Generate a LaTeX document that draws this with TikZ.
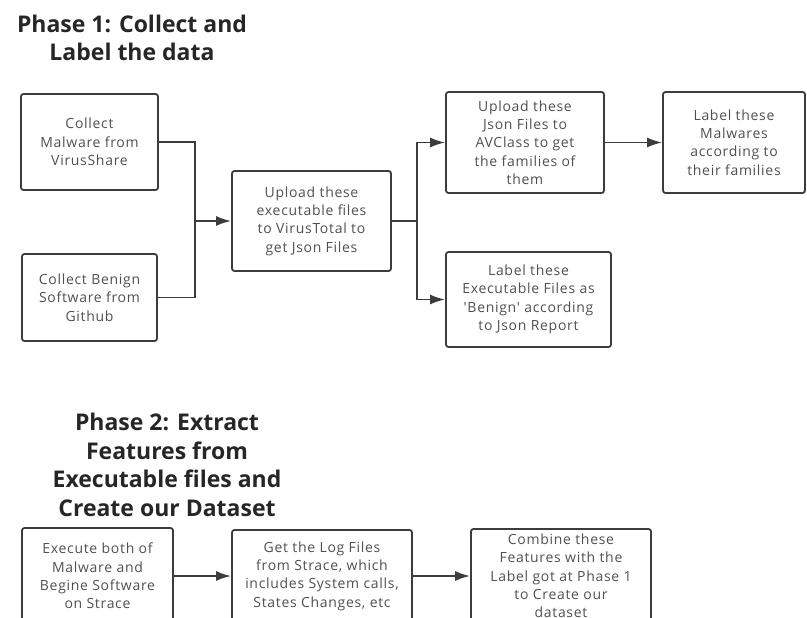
\documentclass[tikz,border=0pt]{standalone}
\usepackage{fontspec}
\setmainfont{Open Sans}
\newfontfamily\boxFont[LetterSpace=5]{Open Sans}
\usepackage{tikz}
\usetikzlibrary{arrows.meta, calc}

\definecolor{boxLine}{HTML}{3C3C3C}
\definecolor{boxText}{HTML}{505050}
\definecolor{titleText}{HTML}{262626}

\tikzset{
    stepBox/.style={draw=boxLine, line width=1.8pt, rounded corners=2.5pt, align=center,
        text=boxText, font=\boxFont\fontsize{14}{18.3}\selectfont, inner sep=0pt},
    phaseTitle/.style={align=center, text=titleText, font=\fontsize{23}{28.7}\selectfont\bfseries},
    wire/.style={draw=boxLine, line width=1.8pt},
    arrowWire/.style={wire, -{Latex[length=15pt, width=10pt]}}
}

\begin{document}
\begin{tikzpicture}[x=1pt, y=-1pt]

%%Paramaters
%% frame of the picture, in pixels
\useasboundingbox (0,0) rectangle (807,618);
\clip (0,0) rectangle (807,618);

%% y position of the second phase row
\def\rowPos{576}


    %% ***Phase 1 : Collect and Label the data***

    \node[phaseTitle] (titleP1) at (132, 38) {Phase 1: Collect and\\Label the data};

    \node[stepBox, minimum width=137, minimum height=96] (collectMal) at (89.5, 142) {Collect\\Malware from\\VirusShare};
    \node[stepBox, minimum width=135, minimum height=87] (collectBen) at (89.5, 297.5) {Collect Benign\\Software from\\Github};
    \node[stepBox, minimum width=159, minimum height=100] (uploadVT) at (311.5, 221) {Upload these\\executable files\\to VirusTotal to\\get Json Files};
    \node[stepBox, minimum width=158, minimum height=101] (uploadAVC) at (525, 142.5) {Upload these\\Json Files to\\AVClass to get\\the families of\\them};
    \node[stepBox, minimum width=142, minimum height=101] (labelMal) at (734, 142.5) {Label these\\Malwares\\according to\\their families};
    \node[stepBox, minimum width=165, minimum height=95] (labelBen) at (528.5, 299.5) {Label these\\Executable Files as\\'Benign' according\\to Json Report};

    \coordinate (joinP1) at (195, 221);
    \coordinate (splitP1) at (417, 221);

        \draw[wire] (collectMal.east) -| (joinP1);
        \draw[wire] (collectBen.east) -| (joinP1);
        \draw[arrowWire] (joinP1) -- (uploadVT.west);

        \draw[wire] (uploadVT.east) -- (splitP1);
        \draw[arrowWire] (splitP1) |- (uploadAVC.west);
        \draw[arrowWire] (splitP1) |- (labelBen.west);

        \draw[arrowWire] (uploadAVC.east) -- (labelMal.west);


    %% ***Phase 2 : Extract Features and Create our Dataset***

    \node[phaseTitle] (titleP2) at (167, 465) {Phase 2: Extract\\Features from\\Executable files and\\Create our Dataset};

    \node[stepBox, minimum width=151, minimum height=96] (execStrace) at (97.5, \rowPos) {Execute both of\\Malware and\\Begine Software\\on Strace};
    \node[stepBox, minimum width=180, minimum height=92] (getLogs) at (322, \rowPos) {Get the Log Files\\from Strace, which\\includes System calls,\\States Changes, etc};
    \node[stepBox, minimum width=180, minimum height=94] (combineFeat) at (561, \rowPos) {Combine these\\Features with the\\Label got at Phase 1\\to Create our\\dataset};

        \draw[arrowWire] (execStrace.east) -- (getLogs.west);
        \draw[arrowWire] (getLogs.east) -- (combineFeat.west);

\end{tikzpicture}
\end{document}
